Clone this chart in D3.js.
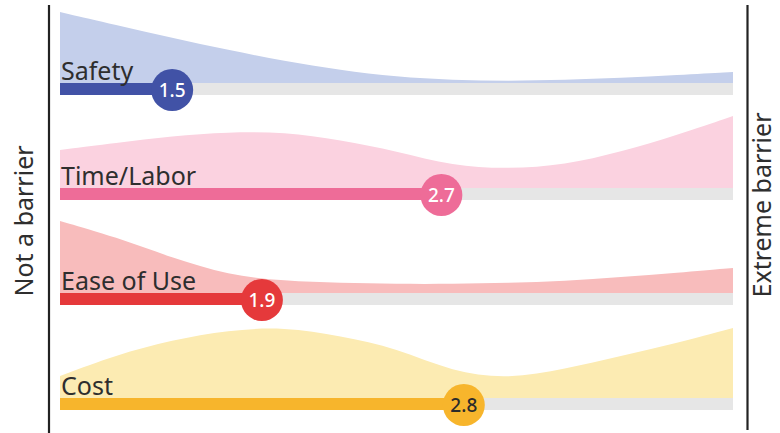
<!DOCTYPE html>
<html>
<head>
<meta charset="utf-8">
<script src="https://cdn.jsdelivr.net/npm/d3@7"></script>
<style>
  body { margin: 0; background: #fff; }
  svg { display: block; }
</style>
</head>
<body>
<div id="chart"></div>
<script>
// barriers, rated 1 (not a barrier) .. 4 (extreme barrier)
var categories = ["Safety", "Time/Labor", "Ease of Use", "Cost"]
var means = [1.5, 2.7, 1.9, 2.8]

var ratingPoints = [1, 1.25, 1.5, 1.75, 2, 2.25, 2.5, 2.75, 3, 3.25, 3.5, 3.75, 4]
var safetyDist = [71, 58, 45, 33, 22, 13, 6, 3, 2, 3, 5, 8, 11]
var timeDist   = [38, 45, 52, 56, 56, 48, 37, 22, 19, 23, 36, 53, 72]
var easeDist   = [72, 56, 35, 18, 12, 10, 9, 9, 10, 12, 16, 20, 25]
var costDist   = [22, 43, 58, 68, 71, 62, 50, 26, 19, 29, 42, 55, 70]
var dists = [safetyDist, timeDist, easeDist, costDist]

var barColors  = ["#4152a6", "#ee6c98", "#e5393b", "#f7b52c"]
var areaColors = ["#c4cfeb", "#fbd2e0", "#f8bcbc", "#fcebb2"]
var labelColors = ["#fff", "#fff", "#fff", "#2b2b2b"]

var width = 780, height = 433

var svg = d3.select("#chart")
  .append("svg")
    .attr("width", width)
    .attr("height", height)

var x = d3.scaleLinear()
  .domain([1, 4])
  .range([60, 733])

var row = d3.scalePoint()
  .domain(categories)
  .range([89, 404])

var h = d3.scaleLinear()
  .domain([0, 80])
  .range([0, 80])

var barH = 12

categories.forEach(function (cat, i) {
  var cy = row(cat)
  var base = cy - barH / 2
  var pts = d3.zip(ratingPoints, dists[i])

  var area = d3.area()
    .x(p => x(p[0]))
    .y0(base)
    .y1(p => base - h(p[1]))
    .curve(d3.curveBasis)

  svg.append("path")
    .attr("d", area(pts))
    .attr("fill", areaColors[i])

  // grey track
  svg.append("rect")
    .attr("x", x(1))
    .attr("y", base)
    .attr("width", x(4) - x(1))
    .attr("height", barH)
    .attr("fill", "#e6e6e6")

  svg.append("rect")
    .attr("x", x(1))
    .attr("y", base)
    .attr("width", x(means[i]) - x(1))
    .attr("height", barH)
    .attr("fill", barColors[i])

  svg.append("text")
    .attr("x", 61)
    .attr("y", cy - 9)
    .attr("font-family", "Noto Sans")
    .attr("font-size", 25)
    .attr("fill", "#2e2e2e")
    .text(cat)

  svg.append("circle")
    .attr("cx", x(means[i]))
    .attr("cy", cy + 1)
    .attr("r", 21)
    .attr("fill", barColors[i])

  svg.append("text")
    .attr("x", x(means[i]))
    .attr("y", cy + 8)
    .attr("text-anchor", "middle")
    .attr("font-family", "Noto Sans")
    .attr("font-weight", 500)
    .attr("font-size", 19)
    .attr("fill", labelColors[i])
    .text(means[i].toFixed(1))
})

// end lines
svg.append("line")
  .attr("x1", 49).attr("x2", 49)
  .attr("y1", 5).attr("y2", 433)
  .attr("stroke", "#222").attr("stroke-width", 2.2)

svg.append("line")
  .attr("x1", 747.5).attr("x2", 747.5)
  .attr("y1", 5).attr("y2", 430)
  .attr("stroke", "#222").attr("stroke-width", 2.2)

svg.append("text")
  .attr("transform", "translate(33,221) rotate(-90)")
  .attr("text-anchor", "middle")
  .attr("font-family", "Noto Sans")
  .attr("font-size", 25)
  .attr("fill", "#2e2e2e")
  .text("Not a barrier")

svg.append("text")
  .attr("transform", "translate(771,205) rotate(-90)")
  .attr("text-anchor", "middle")
  .attr("font-family", "Noto Sans")
  .attr("font-size", 25)
  .attr("fill", "#2e2e2e")
  .text("Extreme barrier")
</script>
</body>
</html>
